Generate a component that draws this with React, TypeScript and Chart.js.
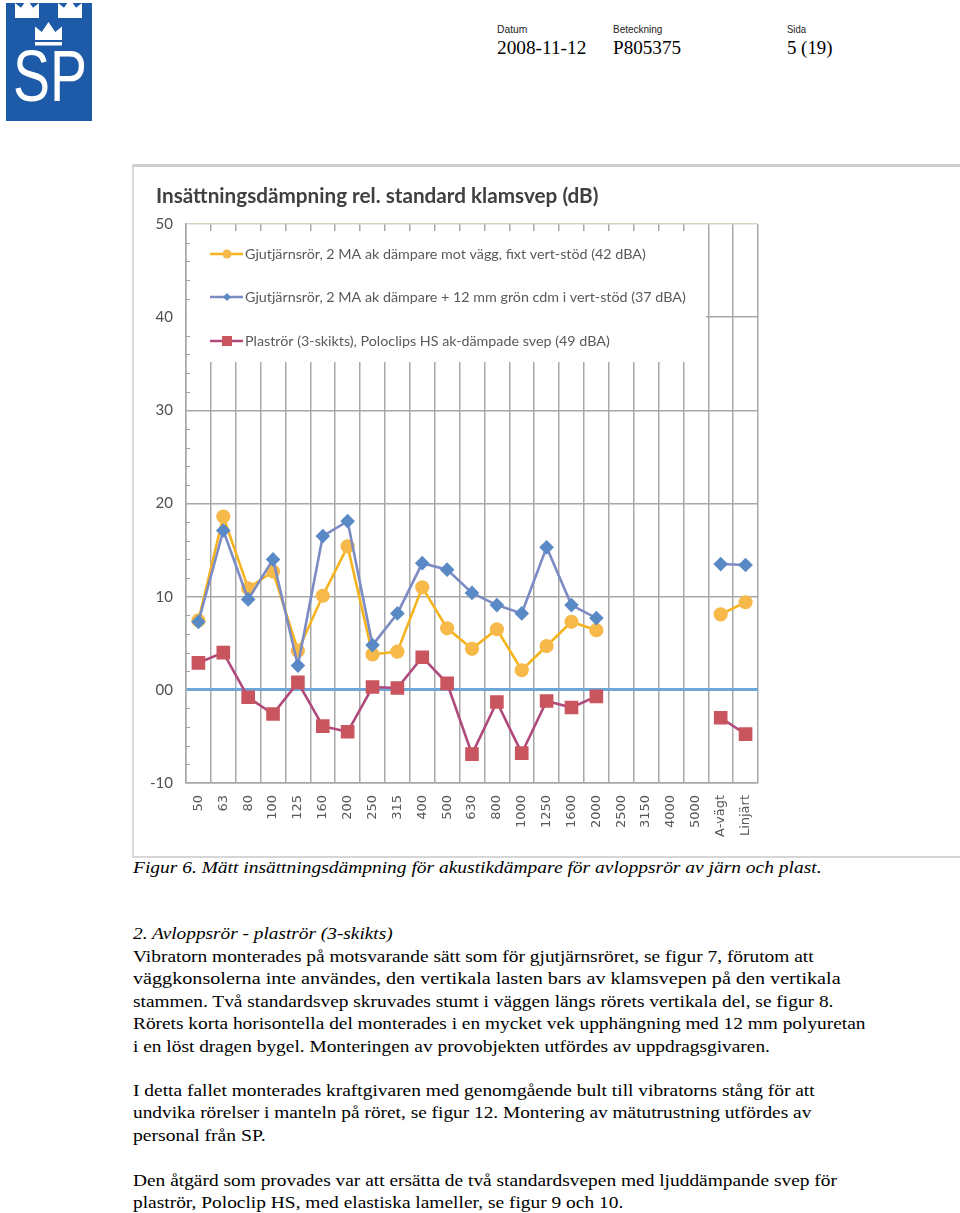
import React, { useEffect, useLayoutEffect, useRef, useState } from 'react';
import { Chart, registerables } from 'chart.js';

Chart.register(...registerables);

// ---------- data ----------
const categories = ['50', '63', '80', '100', '125', '160', '200', '250', '315', '400', '500', '630', '800', '1000', '1250', '1600', '2000', '2500', '3150', '4000', '5000', 'A-vägt', 'Linjärt'];
const labelOrange = 'Gjutjärnsrör, 2 MA ak dämpare mot vägg, fixt vert-stöd (42 dBA)';
const labelBlue = 'Gjutjärnsrör, 2 MA ak dämpare + 12 mm grön cdm i vert-stöd (37 dBA)';
const labelRed = 'Plaströr (3-skikts), Poloclips HS ak-dämpade svep (49 dBA)';
const valuesOrange = [7.45, 18.6, 10.9, 12.7, 4.2, 10.1, 15.4, 3.8, 4.1, 11.0, 6.6, 4.4, 6.5, 2.1, 4.7, 7.3, 6.4, null, null, null, null, 8.1, 9.4];
const valuesBlue = [7.3, 17.1, 9.7, 14.0, 2.6, 16.5, 18.1, 4.8, 8.2, 13.6, 12.9, 10.4, 9.1, 8.2, 15.3, 9.1, 7.7, null, null, null, null, 13.5, 13.4];
const valuesRed = [2.9, 4.0, -0.8, -2.6, 0.8, -3.9, -4.5, 0.3, 0.2, 3.5, 0.7, -6.9, -1.3, -6.8, -1.2, -1.9, -0.7, null, null, null, null, -3.0, -4.75];
const yMin = -10;
const yMax = 50;
const yStep = 10;
const yMinorStep = 2;
const chartTitle = 'Insättningsdämpning rel. standard klamsvep (dB)';

// ---------- styles ----------
const FONT = 'Lato, "Open Sans", sans-serif';
const AXIS_FONT = '"DejaVu Sans", sans-serif';
const GRID = '#a8a8a8';
const TAN = '#d8d3c2';
const ZERO_BLUE = '#6fa6d8';
const TEXT_GRAY = '#595959';

const titlePlugin = {
  id: 'excelTitle',
  afterDraw(chart: any) {
    const { ctx } = chart;
    ctx.save();
    ctx.fillStyle = '#404040';
    ctx.font = `bold 20.7px ${FONT}`;
    ctx.textBaseline = 'middle';
    ctx.textAlign = 'left';
    ctx.fillText(chartTitle, 22, 29.5);
    ctx.restore();
  },
};

const legendPlugin = {
  id: 'excelLegend',
  beforeDatasetsDraw(chart: any) {
    const { ctx, chartArea, scales } = chart;
    ctx.save();
    // white legend box covering grid
    ctx.fillStyle = '#ffffff';
    ctx.fillRect(chartArea.left + 1, 64, 571 - chartArea.left, 131);
    // minor ticks along y axis
    const ys = scales.y;
    ctx.strokeStyle = '#a0a0a0';
    ctx.lineWidth = 1;
    for (let v = yMin; v <= yMax; v += yMinorStep) {
      if (v % yStep === 0) continue;
      const py = Math.round(ys.getPixelForValue(v)) + 0.5;
      ctx.beginPath();
      ctx.moveTo(chartArea.left, py);
      ctx.lineTo(chartArea.left + 4, py);
      ctx.stroke();
    }
    // legend entries
    const rows = [87, 130, 174];
    chart.data.datasets.forEach((ds: any, i: number) => {
      const y = rows[i];
      ctx.strokeStyle = ds.borderColor;
      ctx.lineWidth = 2.5;
      ctx.beginPath();
      ctx.moveTo(76, y);
      ctx.lineTo(109, y);
      ctx.stroke();
      ctx.fillStyle = ds.pointBackgroundColor;
      const cx = 93;
      ctx.beginPath();
      if (ds.pointStyle === 'circle') {
        ctx.arc(cx, y, 4.5, 0, Math.PI * 2);
      } else if (ds.pointStyle === 'rectRot') {
        ctx.moveTo(cx - 4, y);
        ctx.lineTo(cx, y - 4);
        ctx.lineTo(cx + 4, y);
        ctx.lineTo(cx, y + 4);
        ctx.closePath();
      } else {
        ctx.rect(cx - 5, y - 5, 10, 10);
      }
      ctx.fill();
      ctx.fillStyle = TEXT_GRAY;
      ctx.font = `14.3px ${FONT}`;
      ctx.textBaseline = 'middle';
      ctx.textAlign = 'left';
      ctx.fillText(ds.label, 111, y);
    });
    ctx.restore();
  },
};

function ChartBox() {
  const ref = useRef<HTMLCanvasElement | null>(null);
  useEffect(() => {
    if (!ref.current) return;
    const chart = new Chart(ref.current, {
      type: 'line',
      data: {
        labels: categories,
        datasets: [
          {
            label: labelOrange,
            data: valuesOrange,
            borderColor: '#f5b41e',
            backgroundColor: '#f6b94a',
            pointBackgroundColor: '#f6b94a',
            pointBorderColor: '#f6b94a',
            pointStyle: 'circle',
            pointRadius: 5.8,
            borderWidth: 2.6,
            order: 3,
          },
          {
            label: labelBlue,
            data: valuesBlue,
            borderColor: '#7d8bc4',
            backgroundColor: '#5a8ac6',
            pointBackgroundColor: '#5a8ac6',
            pointBorderColor: '#5a8ac6',
            pointStyle: 'rectRot',
            pointRadius: 5.5,
            borderWidth: 2.6,
            order: 2,
          },
          {
            label: labelRed,
            data: valuesRed,
            borderColor: '#b04a7c',
            backgroundColor: '#c9555e',
            pointBackgroundColor: '#c9555e',
            pointBorderColor: '#c9555e',
            pointStyle: 'rect',
            pointRadius: 7.8,
            borderWidth: 2.6,
            order: 1,
          },
        ] as any,
      },
      options: {
        animation: false,
        responsive: false,
        maintainAspectRatio: false,
        spanGaps: false,
        layout: { padding: { left: 6, right: 202, top: 57, bottom: 0 } },
        plugins: {
          legend: { display: false },
          tooltip: { enabled: false },
          title: { display: false },
        },
        scales: {
          x: {
            offset: true,
            grid: {
              offset: true,
              drawTicks: false,
              color: (c: any) => (c.index === categories.length ? TAN : GRID),
              lineWidth: 1.5,
            },
            border: { color: GRID, width: 1.5 },
            ticks: {
              autoSkip: false,
              minRotation: 90,
              maxRotation: 90,
              padding: 12,
              color: TEXT_GRAY,
              font: { family: AXIS_FONT, size: 13 },
            },
            afterFit: (s: any) => {
              s.height = 73;
            },
          },
          y: {
            min: yMin,
            max: yMax,
            grid: {
              drawTicks: false,
              color: (c: any) => (c.tick && c.tick.value === 0 ? ZERO_BLUE : c.tick && c.tick.value === yMax ? TAN : GRID),
              lineWidth: (c: any) => (c.tick && c.tick.value === 0 ? 3 : 1.5),
            },
            border: { color: GRID, width: 1.5 },
            ticks: {
              stepSize: yStep,
              padding: 13,
              color: '#505050',
              font: { family: FONT, size: 15 },
              callback: (v: any) => (Number(v) === 0 ? '00' : String(v)),
            },
            afterFit: (s: any) => {
              s.width = 46;
            },
          },
        },
      } as any,
      plugins: [legendPlugin, titlePlugin],
    });
    let alive = true;
    if ((document as any).fonts && (document as any).fonts.ready) {
      (document as any).fonts.ready.then(() => {
        if (alive) chart.update();
      });
    }
    return () => {
      alive = false;
      chart.destroy();
    };
  }, []);
  return <canvas ref={ref} width={826} height={689} style={{ display: 'block', width: 826, height: 689 }} />;
}

function Txt(props: { x: number; cy: number; w?: number; size: number; lh?: number; family: string; italic?: boolean; color?: string; children: React.ReactNode }) {
  const ref = useRef<HTMLDivElement | null>(null);
  const [sx, setSx] = useState(1);
  const lh = props.lh ?? Math.round(props.size * 1.2);
  useLayoutEffect(() => {
    if (ref.current && props.w) {
      const real = ref.current.scrollWidth;
      if (real > 0) setSx(props.w / real);
    }
  }, [props.w]);
  return (
    <div
      ref={ref}
      style={{
        position: 'absolute',
        left: props.x,
        top: props.cy - lh / 2,
        fontFamily: props.family,
        fontSize: props.size,
        lineHeight: `${lh}px`,
        fontStyle: props.italic ? 'italic' : 'normal',
        color: props.color ?? '#000',
        whiteSpace: 'nowrap',
        transform: `scaleX(${sx})`,
        transformOrigin: '0 0',
      }}
    >
      {props.children}
    </div>
  );
}

function crown(x: number, y: number, w: number, h: number) {
  return `M${x},${y + h} L${x},${y + h * 0.25} L${x + w * 0.25},${y + h * 0.55} L${x + w * 0.5},${y} L${x + w * 0.75},${y + h * 0.55} L${x + w},${y + h * 0.25} L${x + w},${y + h} Z`;
}

function Logo() {
  return (
    <svg style={{ position: 'absolute', left: 6, top: 3 }} width={86} height={118} viewBox="0 0 86 118">
      <rect x={0} y={0} width={86} height={118} fill="#1d5aa8" />
      <path d={crown(9, -4, 24, 16)} fill="#fff" />
      <path d={crown(52, -4, 24, 16)} fill="#fff" />
      <rect x={9} y={12} width={24} height={3} fill="#fff" />
      <rect x={52} y={12} width={24} height={3} fill="#fff" />
      <path d={crown(29, 19, 27, 18)} fill="#fff" />
      <rect x={29} y={39} width={27} height={3.5} fill="#fff" />
      <text x={7} y={98} fill="#fff" fontFamily="Liberation Sans, Arial, sans-serif" fontSize={72} textLength={74} lengthAdjust="spacingAndGlyphs">SP</text>
    </svg>
  );
}

const SERIF = '"Liberation Serif", "Times New Roman", serif';
const SANS = '"Liberation Sans", Arial, sans-serif';

export default function App() {
  return (
    <div style={{ position: 'absolute', left: 0, top: 0, width: 960, height: 1213, overflow: 'hidden', background: '#fff' }}>
      <Logo />
      <Txt x={497} cy={29} w={30} size={11} family={SANS} color="#222">Datum</Txt>
      <Txt x={613} cy={29} w={49} size={11} family={SANS} color="#222">Beteckning</Txt>
      <Txt x={787} cy={29} w={19} size={11} family={SANS} color="#222">Sida</Txt>
      <Txt x={497} cy={48} w={89} size={18} family={SERIF}>2008-11-12</Txt>
      <Txt x={613} cy={48} w={68} size={18} family={SERIF}>P805375</Txt>
      <Txt x={787} cy={48} w={46} size={18} family={SERIF}>5 (19)</Txt>

      <div style={{ position: 'absolute', left: 132, top: 164, width: 828, height: 694, boxSizing: 'border-box', borderTop: '3px solid #d0d0d0', borderLeft: '2px solid #dadada', borderBottom: '2px solid #d6d6d6' }}>
        <ChartBox />
      </div>

      <Txt x={133} cy={868} w={688} size={17} italic family={SERIF}>Figur 6. Mätt insättningsdämpning för akustikdämpare för avloppsrör av järn och plast.</Txt>
      <Txt x={133} cy={934} w={260} size={17} italic family={SERIF}>2. Avloppsrör - plaströr (3-skikts)</Txt>
      <Txt x={133} cy={957} w={681} size={17} family={SERIF}>Vibratorn monterades på motsvarande sätt som för gjutjärnsröret, se figur 7, förutom att</Txt>
      <Txt x={133} cy={979} w={708} size={17} family={SERIF}>väggkonsolerna inte användes, den vertikala lasten bars av klamsvepen på den vertikala</Txt>
      <Txt x={133} cy={1002} w={700} size={17} family={SERIF}>stammen. Två standardsvep skruvades stumt i väggen längs rörets vertikala del, se figur 8.</Txt>
      <Txt x={133} cy={1024} w={733} size={17} family={SERIF}>Rörets korta horisontella del monterades i en mycket vek upphängning med 12 mm polyuretan</Txt>
      <Txt x={133} cy={1047} w={637} size={17} family={SERIF}>i en löst dragen bygel. Monteringen av provobjekten utfördes av uppdragsgivaren.</Txt>
      <Txt x={133} cy={1091} w={682} size={17} family={SERIF}>I detta fallet monterades kraftgivaren med genomgående bult till vibratorns stång för att</Txt>
      <Txt x={133} cy={1113} w={678} size={17} family={SERIF}>undvika rörelser i manteln på röret, se figur 12. Montering av mätutrustning utfördes av</Txt>
      <Txt x={133} cy={1136} w={133} size={17} family={SERIF}>personal från SP.</Txt>
      <Txt x={133} cy={1181} w={704} size={17} family={SERIF}>Den åtgärd som provades var att ersätta de två standardsvepen med ljuddämpande svep för</Txt>
      <Txt x={133} cy={1203} w={490} size={17} family={SERIF}>plaströr, Poloclip HS, med elastiska lameller, se figur 9 och 10.</Txt>
    </div>
  );
}
